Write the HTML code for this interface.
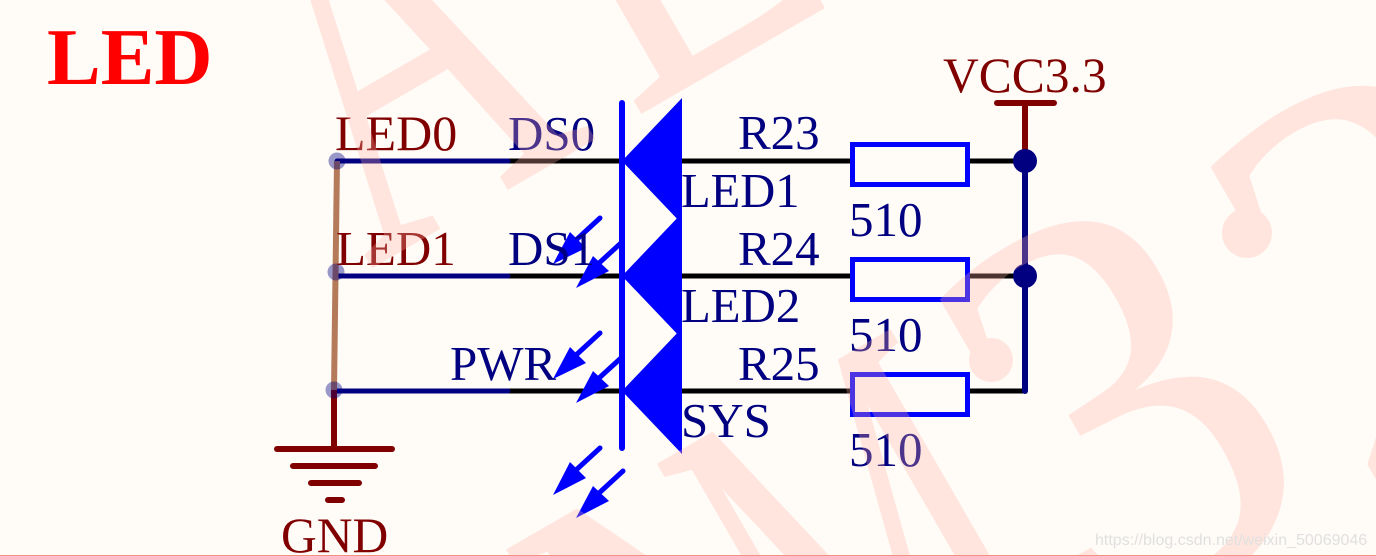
<!DOCTYPE html>
<html><head><meta charset="utf-8"><style>
html,body{margin:0;padding:0;background:#fffcf8;width:1376px;height:556px;overflow:hidden}
svg{display:block;overflow:hidden}
text{font-family:"Liberation Serif",serif}
</style></head><body>
<svg width="1376" height="556" viewBox="0 0 1376 556" xmlns="http://www.w3.org/2000/svg">
<defs><clipPath id="c"><path d="M480 470H625L690 556H480Z"/></clipPath></defs>
<rect width="1376" height="556" fill="#fffcf8"/>
<text x="47" y="84" font-size="80.5" font-weight="bold" fill="#ff0000">LED</text>

<!-- wires -->
<g stroke-linecap="round" fill="none">
<path d="M508 161H622M508 276H622M508 391H622M682 161H852M682 276H852M682 391H852M968 161H1025M968 276H1025M968 391H1025" stroke="#000" stroke-width="5"/>
<path d="M337 161H508M336 276H508M334 391H508" stroke="#000080" stroke-width="5"/>
<path d="M1025 161V391" stroke="#000080" stroke-width="6"/>
<path d="M1025 103V161M997 103H1054" stroke="#800000" stroke-width="6"/>
<path d="M334 390V449" stroke="#800000" stroke-width="6"/>
<path d="M277 449H392" stroke="#800000" stroke-width="6"/>
<path d="M293 466H375M311 483H359M328 500H342" stroke="#800000" stroke-width="6"/>
<path d="M337 161L334 390" stroke="#b47a5a" stroke-width="6" stroke-linecap="butt"/>
</g>
<circle cx="337" cy="161" r="8.5" fill="#000080" fill-opacity=".4"/>
<circle cx="336" cy="272" r="8.5" fill="#000080" fill-opacity=".4"/>
<circle cx="334" cy="390" r="8.5" fill="#000080" fill-opacity=".4"/>
<circle cx="1025" cy="161" r="12" fill="#000080"/>
<circle cx="1025" cy="276" r="12" fill="#000080"/>

<!-- resistors -->
<g fill="none" stroke="#0000ff" stroke-width="5">
<rect x="852.5" y="144.5" width="115" height="40"/>
<rect x="852.5" y="259.5" width="115" height="40"/>
<rect x="852.5" y="374.5" width="115" height="40"/>
</g>

<!-- LEDs -->
<g fill="#0000ff">
<path d="M622 161L682 98V224Z"/>
<path d="M622 276L682 213V339Z"/>
<path d="M622 391L682 328V454Z"/>
<path d="M600 218L575 241" stroke="#0000ff" stroke-width="5" stroke-linecap="round"/>
<path d="M553 264L570 232L586 248Z"/>
<path d="M621 243L598 264" stroke="#0000ff" stroke-width="5"/>
<path d="M576 288L593 256L609 271Z"/>
<path d="M600 333L575 356" stroke="#0000ff" stroke-width="5" stroke-linecap="round"/>
<path d="M553 379L570 347L586 363Z"/>
<path d="M621 358L598 379" stroke="#0000ff" stroke-width="5"/>
<path d="M576 403L593 371L609 386Z"/>
<path d="M600 448L575 471" stroke="#0000ff" stroke-width="5" stroke-linecap="round"/>
<path d="M553 495L570 462L586 478Z"/>
<path d="M623 471L598 494" stroke="#0000ff" stroke-width="5" stroke-linecap="round"/>
<path d="M576 518L593 486L609 501Z"/>
</g>
<path d="M622 103V448" stroke="#0000ff" stroke-width="6" stroke-linecap="round"/>

<!-- labels -->
<g font-size="50" fill="#800000">
<text x="335" y="150">LED0</text>
<text x="336" y="265" font-size="49">LED1</text>
<text x="281" y="552" font-size="49.5">GND</text>
<text x="943" y="92" font-size="49.5">VCC3.3</text>
</g>
<g font-size="49" fill="#000080">
<text x="508" y="150">DS0</text>
<text x="508" y="265">DS1</text>
<text x="450" y="380">PWR</text>
<text x="738" y="149">R23</text>
<text x="738" y="265">R24</text>
<text x="738" y="380">R25</text>
<text x="681" y="207" font-size="48.5">LED1</text>
<text x="681" y="322" font-size="48.8">LED2</text>
<text x="681" y="437">SYS</text>
<text x="849" y="236">510</text>
<text x="849" y="351">510</text>
<text x="849" y="466">510</text>
</g>

<!-- watermark -->
<g fill="#ffb0a1" opacity=".3" font-size="590">
<text transform="translate(369,270) rotate(-30) scale(.62,1)">A</text>
<text transform="translate(631,120) rotate(-30) scale(.7,1)">L</text>
<g clip-path="url(#c)"><text transform="translate(689,890) rotate(-30) scale(.7,1)">N</text></g>
<text transform="translate(842,803) rotate(-30) scale(.55,1)">M</text>
<text transform="translate(1096,646) rotate(-30) scale(.95,1)">3</text>
<text transform="translate(1366,514) rotate(-30)">2</text>
<circle cx="991" cy="360" r="22"/>
<circle cx="1247" cy="233" r="25"/>
</g>

<text x="1095" y="545" font-size="16" fill="#e0e0e0" style="font-family:'Liberation Sans',sans-serif">https://blog.csdn.net/weixin_50069046</text>
<rect x="0" y="555" width="1376" height="1" fill="#f48f85"/>
</svg>
</body></html>
